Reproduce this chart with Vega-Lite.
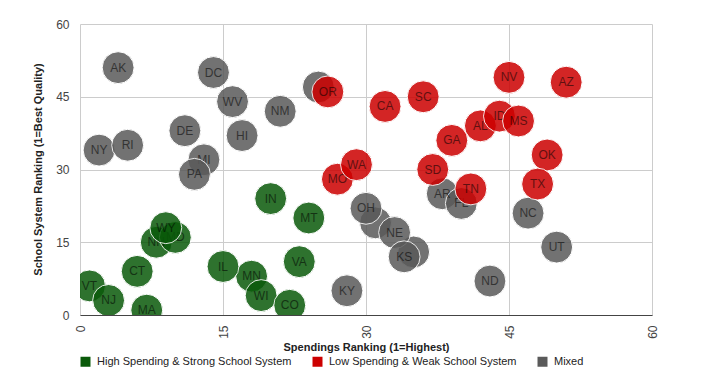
{
  "$schema": "https://vega.github.io/schema/vega-lite/v6.json",
  "width": 572,
  "height": 291,
  "autosize": "none",
  "padding": {"left": 80, "top": 24, "right": 54, "bottom": 68},
  "config": {
    "view": {"stroke": null},
    "font": "Liberation Sans",
    "legend": {
      "orient": "none", "legendX": 0, "legendY": 332, "direction": "horizontal",
      "symbolType": "square", "symbolSize": 100, "symbolOpacity": 1, "symbolStrokeWidth": 0,
      "labelFontSize": 11, "labelColor": "#222", "labelOffset": 6, "columnPadding": 20, "labelLimit": 400
    }
  },
  "data": {
    "values": [
      {"state": "LA", "spend": 25, "school": 47, "group": "Mixed"},
      {"state": "IA", "spend": 31, "school": 19, "group": "Mixed"},
      {"state": "ME", "spend": 35, "school": 13, "group": "Mixed"},
      {"state": "AK", "spend": 4, "school": 51, "group": "Mixed"},
      {"state": "DC", "spend": 14, "school": 50, "group": "Mixed"},
      {"state": "WV", "spend": 16, "school": 44, "group": "Mixed"},
      {"state": "NM", "spend": 21, "school": 42, "group": "Mixed"},
      {"state": "DE", "spend": 11, "school": 38, "group": "Mixed"},
      {"state": "HI", "spend": 17, "school": 37, "group": "Mixed"},
      {"state": "NY", "spend": 2, "school": 34, "group": "Mixed"},
      {"state": "RI", "spend": 5, "school": 35, "group": "Mixed"},
      {"state": "MI", "spend": 13, "school": 32, "group": "Mixed"},
      {"state": "PA", "spend": 12, "school": 29, "group": "Mixed"},
      {"state": "KY", "spend": 28, "school": 5, "group": "Mixed"},
      {"state": "AR", "spend": 38, "school": 25, "group": "Mixed"},
      {"state": "FL", "spend": 40, "school": 23, "group": "Mixed"},
      {"state": "OH", "spend": 30, "school": 22, "group": "Mixed"},
      {"state": "NE", "spend": 33, "school": 17, "group": "Mixed"},
      {"state": "KS", "spend": 34, "school": 12, "group": "Mixed"},
      {"state": "ND", "spend": 43, "school": 7, "group": "Mixed"},
      {"state": "NC", "spend": 47, "school": 21, "group": "Mixed"},
      {"state": "UT", "spend": 50, "school": 14, "group": "Mixed"},
      {"state": "NH", "spend": 8, "school": 15, "group": "High Spending & Strong School System"},
      {"state": "MD", "spend": 10, "school": 16, "group": "High Spending & Strong School System"},
      {"state": "WY", "spend": 9, "school": 18, "group": "High Spending & Strong School System"},
      {"state": "VT", "spend": 1, "school": 6, "group": "High Spending & Strong School System"},
      {"state": "NJ", "spend": 3, "school": 3, "group": "High Spending & Strong School System"},
      {"state": "CT", "spend": 6, "school": 9, "group": "High Spending & Strong School System"},
      {"state": "MA", "spend": 7, "school": 1, "group": "High Spending & Strong School System"},
      {"state": "IL", "spend": 15, "school": 10, "group": "High Spending & Strong School System"},
      {"state": "MN", "spend": 18, "school": 8, "group": "High Spending & Strong School System"},
      {"state": "WI", "spend": 19, "school": 4, "group": "High Spending & Strong School System"},
      {"state": "CO", "spend": 22, "school": 2, "group": "High Spending & Strong School System"},
      {"state": "VA", "spend": 23, "school": 11, "group": "High Spending & Strong School System"},
      {"state": "IN", "spend": 20, "school": 24, "group": "High Spending & Strong School System"},
      {"state": "MT", "spend": 24, "school": 20, "group": "High Spending & Strong School System"},
      {"state": "OR", "spend": 26, "school": 46, "group": "Low Spending & Weak School System"},
      {"state": "CA", "spend": 32, "school": 43, "group": "Low Spending & Weak School System"},
      {"state": "SC", "spend": 36, "school": 45, "group": "Low Spending & Weak School System"},
      {"state": "NV", "spend": 45, "school": 49, "group": "Low Spending & Weak School System"},
      {"state": "AZ", "spend": 51, "school": 48, "group": "Low Spending & Weak School System"},
      {"state": "AL", "spend": 42, "school": 39, "group": "Low Spending & Weak School System"},
      {"state": "ID", "spend": 44, "school": 41, "group": "Low Spending & Weak School System"},
      {"state": "MS", "spend": 46, "school": 40, "group": "Low Spending & Weak School System"},
      {"state": "GA", "spend": 39, "school": 36, "group": "Low Spending & Weak School System"},
      {"state": "OK", "spend": 49, "school": 33, "group": "Low Spending & Weak School System"},
      {"state": "MO", "spend": 27, "school": 28, "group": "Low Spending & Weak School System"},
      {"state": "WA", "spend": 29, "school": 31, "group": "Low Spending & Weak School System"},
      {"state": "SD", "spend": 37, "school": 30, "group": "Low Spending & Weak School System"},
      {"state": "TN", "spend": 41, "school": 26, "group": "Low Spending & Weak School System"},
      {"state": "TX", "spend": 48, "school": 27, "group": "Low Spending & Weak School System"}
    ]
  },
  "encoding": {
    "x": {
      "field": "spend", "type": "quantitative",
      "scale": {"domain": [0, 60], "nice": false},
      "axis": {
        "values": [0, 15, 30, 45, 60], "labelAngle": -90, "labelPadding": 10, "labelFlush": false,
        "ticks": false, "domainColor": "#444", "gridColor": "#ccc",
        "labelColor": "#444", "labelFontSize": 12,
        "title": "Spendings Ranking (1=Highest)", "titleFontSize": 11, "titleFontWeight": "bold",
        "titleColor": "#222", "titleY": 35, "titleBaseline": "alphabetic"
      }
    },
    "y": {
      "field": "school", "type": "quantitative",
      "scale": {"domain": [0, 60], "nice": false},
      "axis": {
        "values": [0, 15, 30, 45, 60], "ticks": false, "labelPadding": 11, "labelFlush": false,
        "domain": false, "gridColor": "#ccc", "labelColor": "#444", "labelFontSize": 12,
        "title": "School System Ranking (1=Best Quality)", "titleFontSize": 11, "titleFontWeight": "bold",
        "titleColor": "#222", "titleX": -39, "titleY": 145, "titleBaseline": "alphabetic", "titleAlign": "center"
      }
    }
  },
  "layer": [
    {
      "transform": [{"filter": {"field": "state", "oneOf": ["LA", "IA", "ME", "MI", "NH", "MD", "AL", "FL", "AR", "MO", "NY", "VT", "MN"]}}],
      "mark": {"type": "circle", "size": 1018, "opacity": 0.85, "stroke": "#ffffff", "strokeWidth": 1, "clip": true},
      "encoding": {
        "color": {"field": "group", "type": "nominal", "title": null,
          "scale": {"domain": ["High Spending & Strong School System", "Low Spending & Weak School System", "Mixed"], "range": ["#0a5a0a", "#cc0000", "#5a5a5a"]}}
      }
    },
    {
      "transform": [{"filter": {"field": "state", "oneOf": ["MI", "NH", "MD", "AL", "FL", "AR", "MO", "NY", "VT", "MN"]}}],
      "mark": {"type": "text", "fontSize": 12, "color": "#000", "opacity": 0.55, "clip": true},
      "encoding": {"text": {"field": "state"}}
    },
    {
      "transform": [{"filter": {"field": "state", "oneOf": ["ID", "WI", "NJ"]}}],
      "mark": {"type": "circle", "size": 1018, "opacity": 0.85, "stroke": "#ffffff", "strokeWidth": 1, "clip": true},
      "encoding": {"color": {"field": "group", "type": "nominal", "title": null}}
    },
    {
      "transform": [{"filter": {"field": "state", "oneOf": ["ID", "WI", "NJ"]}}],
      "mark": {"type": "text", "fontSize": 12, "color": "#000", "opacity": 0.55, "clip": true},
      "encoding": {"text": {"field": "state"}}
    },
    {
      "transform": [{"filter": {"not": {"field": "state", "oneOf": ["LA", "IA", "ME", "MI", "NH", "MD", "AL", "FL", "AR", "MO", "NY", "VT", "MN", "ID", "WI", "NJ"]}}}],
      "mark": {"type": "circle", "size": 1018, "opacity": 0.85, "stroke": "#ffffff", "strokeWidth": 1, "clip": true},
      "encoding": {"color": {"field": "group", "type": "nominal", "title": null}}
    },
    {
      "transform": [{"filter": {"not": {"field": "state", "oneOf": ["LA", "IA", "ME", "MI", "NH", "MD", "AL", "FL", "AR", "MO", "NY", "VT", "MN", "ID", "WI", "NJ"]}}}],
      "mark": {"type": "text", "fontSize": 12, "color": "#000", "opacity": 0.55, "clip": true},
      "encoding": {"text": {"field": "state"}}
    }
  ]
}
